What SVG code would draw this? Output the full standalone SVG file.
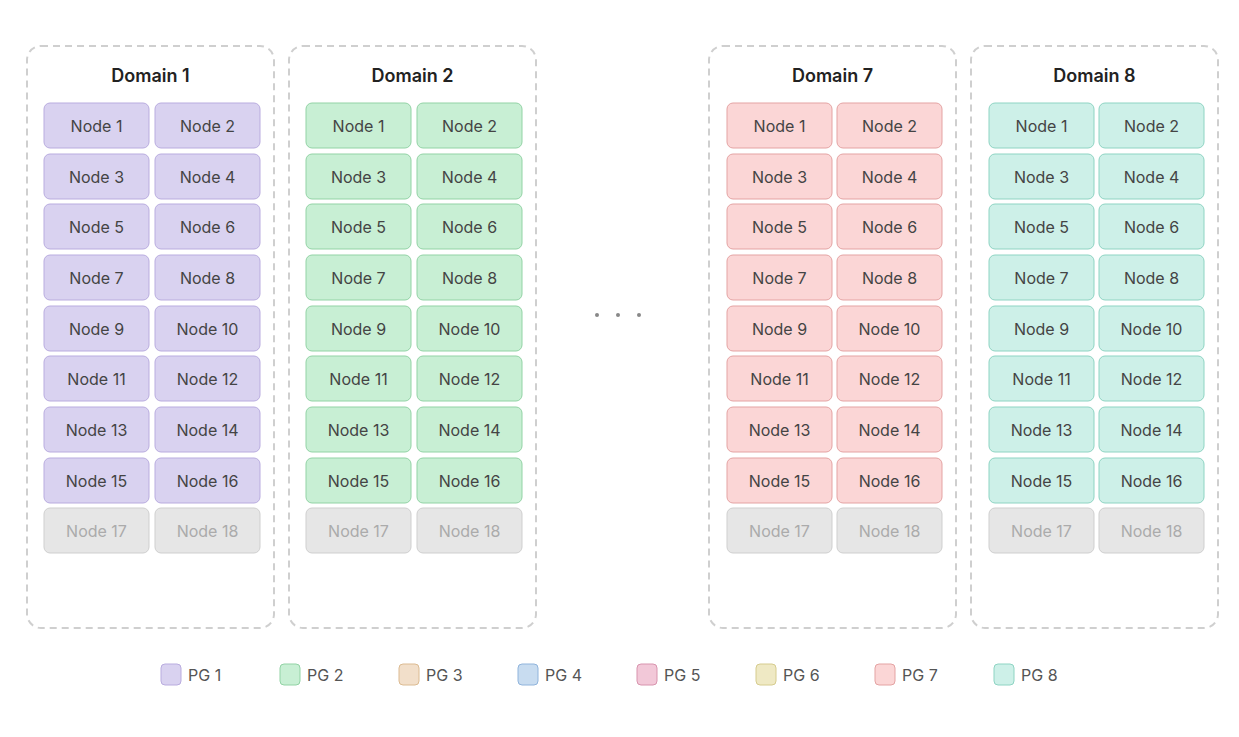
<svg xmlns="http://www.w3.org/2000/svg" width="1239" height="737" viewBox="0 0 1239 737">
<style>
text{font-family:Inter,"Noto Sans",sans-serif}
.dom{fill:#fff;stroke:#cfcfcf;stroke-width:2;stroke-dasharray:7 5}
.title{font-size:18px;font-weight:600;fill:#222;text-anchor:middle}
.nt{font-size:16px;fill:#444;text-anchor:middle;dominant-baseline:central}
.g .nt{fill:#ababab}
.p1 use{fill:#d9d2f0;stroke:#b9acdf}
.p2 use{fill:#c8efd4;stroke:#92d3a5}
.p7 use{fill:#fbd6d6;stroke:#e4a3a3}
.p8 use{fill:#cdf0e8;stroke:#8ed4c3}
.g use{fill:#e6e6e6;stroke:#cfcfcf}
.lt{font-size:16px;fill:#555;dominant-baseline:central}
</style>
<defs>
<rect id="n" x="0" y="0" width="105" height="45" rx="6"/>
</defs>
<rect width="1239" height="737" fill="#fff"/>
<g id="domain1"><rect class="dom" x="27" y="46" width="247" height="582" rx="14"/><text class="title" x="150.5" y="82">Domain 1</text></g>
<g id="domain2"><rect class="dom" x="289" y="46" width="247" height="582" rx="14"/><text class="title" x="412.5" y="82">Domain 2</text></g>
<g id="domain7"><rect class="dom" x="709" y="46" width="247" height="582" rx="14"/><text class="title" x="832.5" y="82">Domain 7</text></g>
<g id="domain8"><rect class="dom" x="971" y="46" width="247" height="582" rx="14"/><text class="title" x="1094.5" y="82">Domain 8</text></g>
<g id="nodes">
<g class="p1"><use href="#n" x="44" y="103"/><use href="#n" x="155" y="103"/><use href="#n" x="44" y="154"/><use href="#n" x="155" y="154"/><use href="#n" x="44" y="204"/><use href="#n" x="155" y="204"/><use href="#n" x="44" y="255"/><use href="#n" x="155" y="255"/><use href="#n" x="44" y="306"/><use href="#n" x="155" y="306"/><use href="#n" x="44" y="356"/><use href="#n" x="155" y="356"/><use href="#n" x="44" y="407"/><use href="#n" x="155" y="407"/><use href="#n" x="44" y="458"/><use href="#n" x="155" y="458"/></g>
<g class="p2"><use href="#n" x="306" y="103"/><use href="#n" x="417" y="103"/><use href="#n" x="306" y="154"/><use href="#n" x="417" y="154"/><use href="#n" x="306" y="204"/><use href="#n" x="417" y="204"/><use href="#n" x="306" y="255"/><use href="#n" x="417" y="255"/><use href="#n" x="306" y="306"/><use href="#n" x="417" y="306"/><use href="#n" x="306" y="356"/><use href="#n" x="417" y="356"/><use href="#n" x="306" y="407"/><use href="#n" x="417" y="407"/><use href="#n" x="306" y="458"/><use href="#n" x="417" y="458"/></g>
<g class="p7"><use href="#n" x="727" y="103"/><use href="#n" x="837" y="103"/><use href="#n" x="727" y="154"/><use href="#n" x="837" y="154"/><use href="#n" x="727" y="204"/><use href="#n" x="837" y="204"/><use href="#n" x="727" y="255"/><use href="#n" x="837" y="255"/><use href="#n" x="727" y="306"/><use href="#n" x="837" y="306"/><use href="#n" x="727" y="356"/><use href="#n" x="837" y="356"/><use href="#n" x="727" y="407"/><use href="#n" x="837" y="407"/><use href="#n" x="727" y="458"/><use href="#n" x="837" y="458"/></g>
<g class="p8"><use href="#n" x="989" y="103"/><use href="#n" x="1099" y="103"/><use href="#n" x="989" y="154"/><use href="#n" x="1099" y="154"/><use href="#n" x="989" y="204"/><use href="#n" x="1099" y="204"/><use href="#n" x="989" y="255"/><use href="#n" x="1099" y="255"/><use href="#n" x="989" y="306"/><use href="#n" x="1099" y="306"/><use href="#n" x="989" y="356"/><use href="#n" x="1099" y="356"/><use href="#n" x="989" y="407"/><use href="#n" x="1099" y="407"/><use href="#n" x="989" y="458"/><use href="#n" x="1099" y="458"/></g>
<g class="g"><use href="#n" x="44" y="508"/><use href="#n" x="155" y="508"/><use href="#n" x="306" y="508"/><use href="#n" x="417" y="508"/><use href="#n" x="727" y="508"/><use href="#n" x="837" y="508"/><use href="#n" x="989" y="508"/><use href="#n" x="1099" y="508"/>
<text class="nt" x="96.5" y="531">Node 17</text><text class="nt" x="207.5" y="531">Node 18</text><text class="nt" x="358.5" y="531">Node 17</text><text class="nt" x="469.5" y="531">Node 18</text><text class="nt" x="779.5" y="531">Node 17</text><text class="nt" x="889.5" y="531">Node 18</text><text class="nt" x="1041.5" y="531">Node 17</text><text class="nt" x="1151.5" y="531">Node 18</text></g>
</g>
<g id="labels">
<g transform="translate(96.5,0)"><text class="nt" y="126">Node 1</text><text class="nt" y="177">Node 3</text><text class="nt" y="227">Node 5</text><text class="nt" y="278">Node 7</text><text class="nt" y="329">Node 9</text><text class="nt" y="379">Node 11</text><text class="nt" y="430">Node 13</text><text class="nt" y="481">Node 15</text></g>
<g transform="translate(207.5,0)"><text class="nt" y="126">Node 2</text><text class="nt" y="177">Node 4</text><text class="nt" y="227">Node 6</text><text class="nt" y="278">Node 8</text><text class="nt" y="329">Node 10</text><text class="nt" y="379">Node 12</text><text class="nt" y="430">Node 14</text><text class="nt" y="481">Node 16</text></g>
<g transform="translate(358.5,0)"><text class="nt" y="126">Node 1</text><text class="nt" y="177">Node 3</text><text class="nt" y="227">Node 5</text><text class="nt" y="278">Node 7</text><text class="nt" y="329">Node 9</text><text class="nt" y="379">Node 11</text><text class="nt" y="430">Node 13</text><text class="nt" y="481">Node 15</text></g>
<g transform="translate(469.5,0)"><text class="nt" y="126">Node 2</text><text class="nt" y="177">Node 4</text><text class="nt" y="227">Node 6</text><text class="nt" y="278">Node 8</text><text class="nt" y="329">Node 10</text><text class="nt" y="379">Node 12</text><text class="nt" y="430">Node 14</text><text class="nt" y="481">Node 16</text></g>
<g transform="translate(779.5,0)"><text class="nt" y="126">Node 1</text><text class="nt" y="177">Node 3</text><text class="nt" y="227">Node 5</text><text class="nt" y="278">Node 7</text><text class="nt" y="329">Node 9</text><text class="nt" y="379">Node 11</text><text class="nt" y="430">Node 13</text><text class="nt" y="481">Node 15</text></g>
<g transform="translate(889.5,0)"><text class="nt" y="126">Node 2</text><text class="nt" y="177">Node 4</text><text class="nt" y="227">Node 6</text><text class="nt" y="278">Node 8</text><text class="nt" y="329">Node 10</text><text class="nt" y="379">Node 12</text><text class="nt" y="430">Node 14</text><text class="nt" y="481">Node 16</text></g>
<g transform="translate(1041.5,0)"><text class="nt" y="126">Node 1</text><text class="nt" y="177">Node 3</text><text class="nt" y="227">Node 5</text><text class="nt" y="278">Node 7</text><text class="nt" y="329">Node 9</text><text class="nt" y="379">Node 11</text><text class="nt" y="430">Node 13</text><text class="nt" y="481">Node 15</text></g>
<g transform="translate(1151.5,0)"><text class="nt" y="126">Node 2</text><text class="nt" y="177">Node 4</text><text class="nt" y="227">Node 6</text><text class="nt" y="278">Node 8</text><text class="nt" y="329">Node 10</text><text class="nt" y="379">Node 12</text><text class="nt" y="430">Node 14</text><text class="nt" y="481">Node 16</text></g>
</g>
<g id="ellipsis" fill="#888"><circle cx="597" cy="315" r="2"/><circle cx="618" cy="315" r="2"/><circle cx="639" cy="315" r="2"/></g>
<g id="connectors"/>
<g id="legend">
<rect x="161" y="664" width="20" height="21" rx="4" fill="#d9d2f0" stroke="#b9acdf"/><text class="lt" x="188" y="675">PG 1</text>
<rect x="280" y="664" width="20" height="21" rx="4" fill="#c8efd4" stroke="#92d3a5"/><text class="lt" x="307" y="675">PG 2</text>
<rect x="399" y="664" width="20" height="21" rx="4" fill="#f2dfca" stroke="#dcbb92"/><text class="lt" x="426" y="675">PG 3</text>
<rect x="518" y="664" width="20" height="21" rx="4" fill="#c8dcf0" stroke="#90b4dc"/><text class="lt" x="545" y="675">PG 4</text>
<rect x="637" y="664" width="20" height="21" rx="4" fill="#f2c8d8" stroke="#d894ae"/><text class="lt" x="664" y="675">PG 5</text>
<rect x="756" y="664" width="20" height="21" rx="4" fill="#efe9c4" stroke="#d6cc8e"/><text class="lt" x="783" y="675">PG 6</text>
<rect x="875" y="664" width="20" height="21" rx="4" fill="#fbd6d6" stroke="#e4a3a3"/><text class="lt" x="902" y="675">PG 7</text>
<rect x="994" y="664" width="20" height="21" rx="4" fill="#cdf0e8" stroke="#8ed4c3"/><text class="lt" x="1021" y="675">PG 8</text>
</g>
</svg>
